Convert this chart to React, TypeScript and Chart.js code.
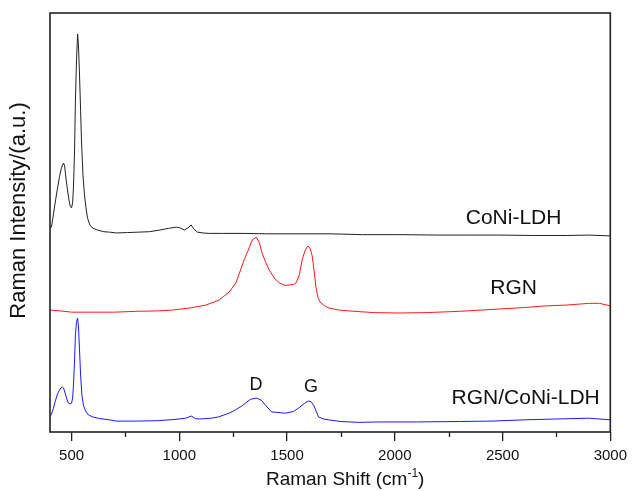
import React, { useEffect, useRef } from "react";
import { Chart, registerables } from "chart.js";

Chart.register(...registerables);

const X_MIN = 400;
const X_MAX = 3000;
const X_TICKS = [500, 1000, 1500, 2000, 2500, 3000];
const MINOR_TICKS = [750, 1250, 1750, 2250, 2750];

const coniShift = [400, 407, 416, 426, 435, 444, 452, 458, 463, 468, 474, 481, 488, 494, 500, 505, 509, 514, 518, 523, 528, 532, 537, 542, 546, 553, 560, 567, 574, 585, 597, 620, 650, 676, 709, 760, 810, 861, 910, 950, 986, 1005, 1023, 1040, 1055, 1068, 1084, 1110, 1139, 1200, 1300, 1400, 1556, 1700, 1850, 2019, 2200, 2350, 2482, 2650, 2800, 2900, 3000];
const coniIntensity = [48.7, 48.9, 52.0, 55.4, 58.2, 60.9, 62.8, 63.7, 64.2, 63.5, 60.6, 57.8, 55.4, 53.9, 53.5, 54.7, 58.5, 67.3, 79.2, 88.8, 95.0, 92.4, 85.2, 76.8, 69.7, 61.3, 56.6, 53.5, 51.1, 49.4, 48.7, 48.2, 47.8, 47.7, 47.5, 47.6, 47.7, 47.8, 48.2, 48.6, 48.9, 48.7, 48.2, 48.7, 49.4, 48.4, 47.7, 47.5, 47.4, 47.4, 47.4, 47.3, 47.3, 47.3, 47.1, 47.1, 47.0, 47.0, 47.0, 46.9, 46.9, 47.0, 46.8];

const rgnShift = [400, 450, 500, 600, 700, 800, 900, 968, 1050, 1124, 1185, 1231, 1263, 1301, 1320, 1338, 1357, 1372, 1384, 1400, 1417, 1440, 1463, 1490, 1510, 1530, 1542, 1557, 1570, 1584, 1597, 1606, 1616, 1625, 1634, 1643, 1653, 1675, 1694, 1740, 1787, 1900, 2018, 2150, 2300, 2400, 2500, 2600, 2700, 2800, 2900, 2950, 3000];
const rgnIntensity = [29.1, 28.9, 28.6, 28.6, 28.6, 28.8, 28.9, 29.1, 29.6, 30.3, 31.5, 33.4, 35.6, 41.1, 43.4, 45.8, 46.5, 45.1, 42.7, 40.6, 38.7, 36.8, 35.6, 35.0, 35.1, 35.2, 35.6, 37.5, 41.1, 43.4, 44.4, 43.9, 42.2, 38.7, 34.6, 32.2, 31.0, 30.1, 29.6, 29.1, 28.9, 28.5, 28.4, 28.5, 28.8, 29.1, 29.4, 29.7, 30.1, 30.3, 30.7, 30.7, 30.1];

const compShift = [400, 407, 416, 426, 435, 444, 452, 458, 463, 470, 478, 485, 492, 500, 505, 509, 514, 518, 523, 528, 532, 537, 542, 548, 555, 565, 578, 597, 630, 676, 709, 800, 900, 980, 1030, 1056, 1075, 1093, 1150, 1182, 1231, 1261, 1290, 1307, 1330, 1358, 1380, 1400, 1428, 1493, 1530, 1553, 1580, 1599, 1612, 1623, 1635, 1646, 1670, 1692, 1750, 1831, 1926, 2100, 2300, 2450, 2600, 2750, 2900, 3000];
const compIntensity = [3.6, 4.3, 5.7, 7.6, 9.1, 10.0, 10.6, 10.7, 10.5, 9.3, 7.9, 6.9, 6.7, 6.9, 8.1, 11.2, 17.2, 23.2, 26.3, 27.2, 25.3, 19.6, 13.6, 8.8, 6.4, 5.0, 4.1, 3.6, 3.2, 2.9, 2.6, 2.6, 2.7, 3.0, 3.3, 3.8, 3.2, 3.1, 3.3, 3.6, 4.5, 5.3, 6.2, 6.9, 7.8, 8.1, 7.6, 6.4, 4.8, 4.5, 4.9, 5.7, 6.8, 7.4, 7.2, 6.4, 5.0, 3.6, 3.1, 2.9, 2.5, 2.3, 2.4, 2.4, 2.5, 2.6, 2.9, 3.1, 3.3, 2.9];

const SERIES_NAMES = ["CoNi-LDH", "RGN", "RGN/CoNi-LDH"];
const SERIES_COLORS = ["#222222", "#ff1a1a", "#1a1aff"];
const SERIES_LABEL_POS = [
  { x: 2551, y: 51.1 },
  { x: 2551, y: 34.4 },
  { x: 2607, y: 8.1 },
];
const PEAK_LABELS = ["D", "G"];
const PEAK_LABEL_POS = [
  { x: 1356, y: 11.2 },
  { x: 1611, y: 10.7 },
];

const FONT = "'Liberation Sans', Arial, sans-serif";

function toPoints(xs: number[], ys: number[]) {
  return xs.map((x, i) => ({ x, y: ys[i] }));
}

const decorPlugin = {
  id: "decor",
  afterDatasetsDraw(chart: any) {
    const ctx = chart.ctx as CanvasRenderingContext2D;
    const area = chart.chartArea;
    const xs = chart.scales.x;
    const ys = chart.scales.y;
    ctx.save();
    // frame
    ctx.strokeStyle = "#222";
    ctx.lineWidth = 1.6;
    ctx.strokeRect(area.left, area.top, area.right - area.left, area.bottom - area.top);
    // minor ticks
    ctx.lineWidth = 1.3;
    MINOR_TICKS.forEach((v) => {
      const px = Math.round(xs.getPixelForValue(v)) + 0.5;
      ctx.beginPath();
      ctx.moveTo(px, area.bottom);
      ctx.lineTo(px, area.bottom + 5);
      ctx.stroke();
    });
    // series labels
    ctx.fillStyle = "#111";
    ctx.textAlign = "center";
    ctx.textBaseline = "middle";
    ctx.font = `21px ${FONT}`;
    SERIES_NAMES.forEach((name, i) => {
      const p = SERIES_LABEL_POS[i];
      ctx.fillText(name, xs.getPixelForValue(p.x), ys.getPixelForValue(p.y));
    });
    ctx.font = `18px ${FONT}`;
    PEAK_LABELS.forEach((name, i) => {
      const p = PEAK_LABEL_POS[i];
      ctx.fillText(name, xs.getPixelForValue(p.x), ys.getPixelForValue(p.y));
    });
    // x title with superscript
    const main = "Raman Shift (cm";
    const sup = "-1";
    const tail = ")";
    ctx.font = `19px ${FONT}`;
    const wMain = ctx.measureText(main).width;
    const wTail = ctx.measureText(tail).width;
    ctx.font = `12px ${FONT}`;
    const wSup = ctx.measureText(sup).width;
    const total = wMain + wSup + wTail;
    const cx = (area.left + area.right) / 2 + 15;
    const baseY = area.bottom + 53;
    const x0 = cx - total / 2;
    ctx.textAlign = "left";
    ctx.textBaseline = "alphabetic";
    ctx.font = `19px ${FONT}`;
    ctx.fillText(main, x0, baseY);
    ctx.font = `12px ${FONT}`;
    ctx.fillText(sup, x0 + wMain, baseY - 8);
    ctx.font = `19px ${FONT}`;
    ctx.fillText(tail, x0 + wMain + wSup, baseY);
    // y title
    ctx.save();
    ctx.translate(19, (area.top + area.bottom) / 2 - 12);
    ctx.rotate(-Math.PI / 2);
    ctx.textAlign = "center";
    ctx.textBaseline = "middle";
    ctx.font = `22px ${FONT}`;
    ctx.fillText("Raman Intensity/(a.u.)", 0, 0);
    ctx.restore();
    ctx.restore();
  },
};

export default function App() {
  const ref = useRef<HTMLCanvasElement | null>(null);
  useEffect(() => {
    if (!ref.current) return;
    const series = [
      toPoints(coniShift, coniIntensity),
      toPoints(rgnShift, rgnIntensity),
      toPoints(compShift, compIntensity),
    ];
    const chart = new Chart(ref.current, {
      type: "line",
      data: {
        datasets: series.map((d, i) => ({
          label: SERIES_NAMES[i],
          data: d,
          borderColor: SERIES_COLORS[i],
          borderWidth: 1,
          pointRadius: 0,
          tension: 0,
          fill: false,
        })),
      },
      options: {
        animation: false,
        responsive: false,
        devicePixelRatio: 1,
        layout: { padding: { left: 0, top: 13, right: 21, bottom: 0 } },
        plugins: { legend: { display: false }, tooltip: { enabled: false } },
        scales: {
          x: {
            type: "linear",
            min: X_MIN,
            max: X_MAX,
            afterBuildTicks: (scale: any) => {
              scale.ticks = X_TICKS.map((v) => ({ value: v }));
            },
            ticks: {
              color: "#111",
              font: { family: FONT, size: 15 },
              padding: 6,
              maxRotation: 0,
              autoSkip: false,
              callback: (v: any) => String(v),
            },
            grid: {
              display: true,
              drawOnChartArea: false,
              drawTicks: true,
              tickLength: 9,
              color: "#222",
              lineWidth: 1.3,
            },
            border: { display: false },
            afterFit: (scale: any) => {
              scale.height = 59;
            },
          },
          y: {
            type: "linear",
            min: 0,
            max: 100,
            ticks: { display: false },
            grid: { display: false },
            border: { display: false },
            afterFit: (scale: any) => {
              scale.width = 50;
            },
          },
        },
      },
      plugins: [decorPlugin],
    });
    return () => chart.destroy();
  }, []);
  return (
    <div style={{ position: "absolute", left: 0, top: 0, width: 633, height: 491, background: "#fff" }}>
      <canvas ref={ref} width={633} height={491} />
    </div>
  );
}
